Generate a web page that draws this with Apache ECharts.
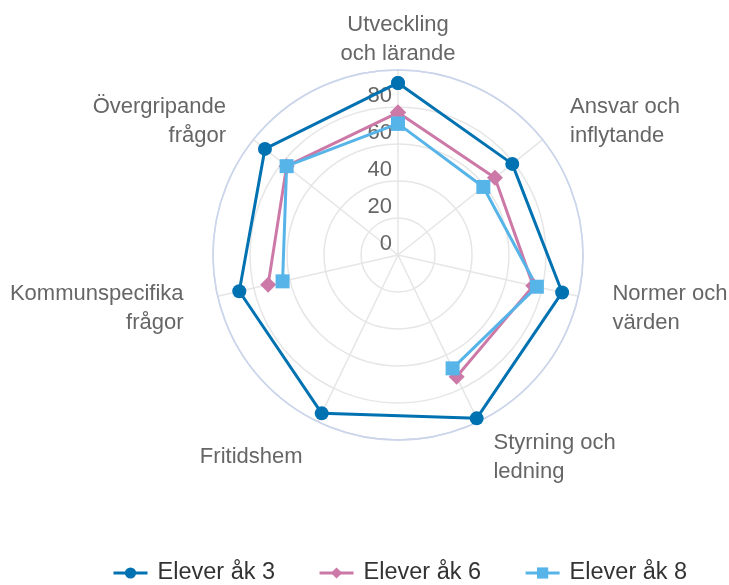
<!DOCTYPE html>
<html>
<head>
<meta charset="utf-8">
<script src="https://cdn.jsdelivr.net/npm/echarts@6/dist/echarts.min.js"></script>
<style>
  html, body { margin: 0; padding: 0; background: #fff; }
  #chart { width: 729px; height: 585px; }
</style>
</head>
<body>
<div id="chart"></div>
<script>
// kategorier i medurs ordning, med start uppifrån
const categories = ['Utveckling\noch lärande', 'Ansvar och\ninflytande', 'Normer och\nvärden',
  'Styrning och\nledning', 'Fritidshem', 'Kommunspecifika\nfrågor', 'Övergripande\nfrågor'];
const radiusTicks = [0, 20, 40, 60, 80, 100];

const ak3 = [93, 79, 91, 98, 95, 88, 92];
const ak6 = [77, 67, 75, 73, null, 72, 77];
const ak8 = [71, 59, 77, 68, null, 64, 77];

const FONT = 'Liberation Sans, Arial, sans-serif';

// polygonen stängs genom att första punkten upprepas vid vinkel 7
function toPolar(values) {
  const out = [];
  for (let i = 0; i <= values.length; i++) {
    const v = values[i % values.length];
    out.push([v == null ? '-' : v, i]);
  }
  return out;
}

function makeSeries(name, values, color, symbol, size) {
  return {
    name: name,
    type: 'line',
    coordinateSystem: 'polar',
    data: toPolar(values),
    connectNulls: false,
    symbol: symbol,
    symbolSize: size,
    showAllSymbol: true,
    color: color,
    lineStyle: { width: 3, color: color },
    itemStyle: { color: color },
    emphasis: { disabled: true }
  };
}

const option = {
  animation: false,
  backgroundColor: '#fff',
  polar: { center: [398, 255], radius: 185 },
  angleAxis: {
    type: 'value',
    min: 0,
    max: categories.length,
    interval: 1,
    startAngle: 90,
    clockwise: true,
    axisLine: { show: true, lineStyle: { color: '#ccd6eb', width: 1.5 } },
    axisTick: { show: false },
    splitLine: { show: true, lineStyle: { color: '#e6e6e6', width: 1.5 } },
    axisLabel: {
      margin: 35,
      color: '#666',
      fontSize: 22,
      fontFamily: FONT,
      lineHeight: 29,
      // etiketten centreras vertikalt kring sin punkt
      padding: [-25, 0, -33, 0],
      rich: {
        t: { fontSize: 22, lineHeight: 29, color: '#666', fontFamily: FONT },
        one: { fontSize: 22, lineHeight: 58, color: '#666', fontFamily: FONT }
      },
      formatter: function (v) {
        if (v >= categories.length) return '';
        const lines = categories[v].split('\n');
        if (lines.length === 1) return '{one|' + lines[0] + '}';
        return lines.map(function (l) { return '{t|' + l + '}'; }).join('\n');
      }
    }
  },
  radiusAxis: {
    type: 'value',
    min: radiusTicks[0],
    max: radiusTicks[radiusTicks.length - 1],
    interval: 20,
    axisLine: { show: false },
    axisTick: { show: false },
    splitLine: {
      show: true,
      lineStyle: { color: ['#e6e6e6', '#e6e6e6', '#e6e6e6', '#e6e6e6', '#e6e6e6', '#ccd6eb'], width: 1.5 }
    },
    axisLabel: {
      color: '#666',
      fontSize: 22,
      fontFamily: FONT,
      margin: 6,
      align: 'right',
      verticalAlign: 'bottom',
      showMaxLabel: false,
      formatter: function (v) { return v >= 100 ? '' : String(v); }
    },
    z: 1
  },
  legend: {
    top: 556,
    left: 107,
    itemGap: 43,
    itemWidth: 34,
    itemHeight: 14,
    lineStyle: { width: 3 },
    textStyle: { fontSize: 23.5, color: '#333', fontFamily: FONT, padding: [0, 0, 0, 5] },
    data: ['Elever åk 3', 'Elever åk 6', 'Elever åk 8']
  },
  series: [
    makeSeries('Elever åk 3', ak3, '#0072b2', 'circle', 14),
    makeSeries('Elever åk 6', ak6, '#cc79a7', 'diamond', 16),
    makeSeries('Elever åk 8', ak8, '#56b4e9', 'rect', 14)
  ]
};

const myChart = echarts.init(document.getElementById('chart'));
myChart.setOption(option);
</script>
</body>
</html>
